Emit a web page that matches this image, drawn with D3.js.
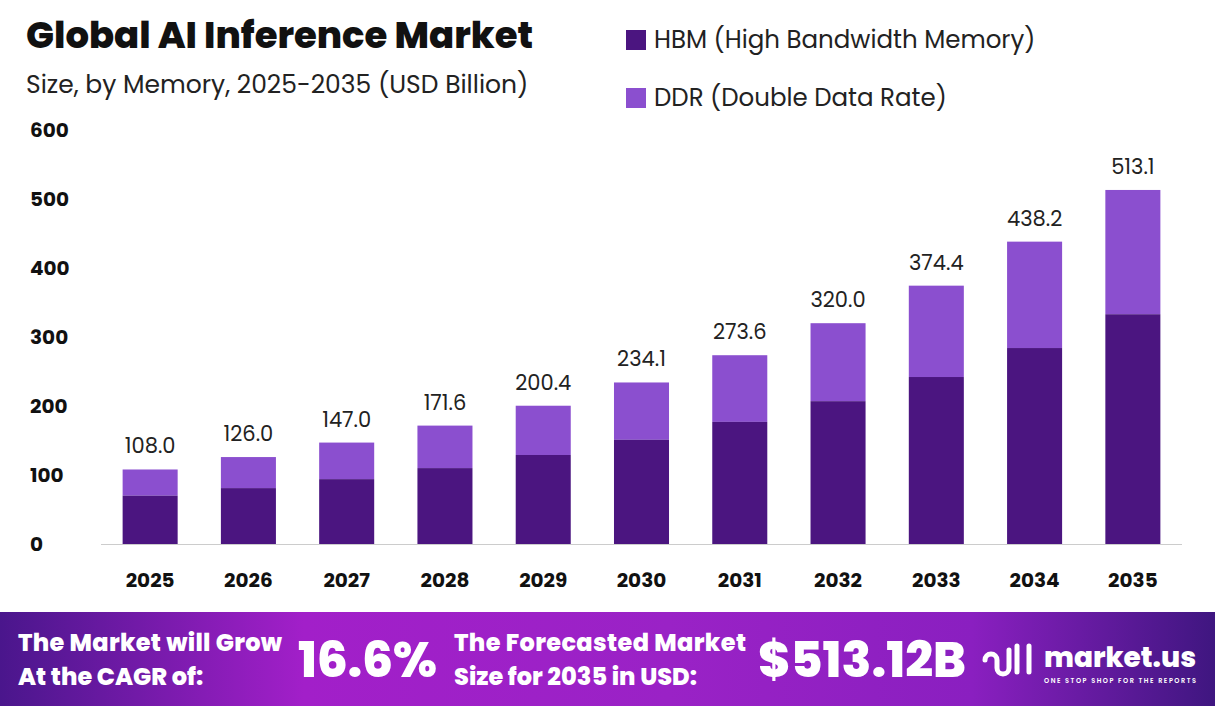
<!DOCTYPE html>
<html><head><meta charset="utf-8">
<script src="https://cdn.jsdelivr.net/npm/d3@7"></script>
<style>body{margin:0;background:#fff}svg{display:block;font-family:Poppins,"Open Sans","Noto Sans",sans-serif}</style>
</head><body><svg id="c" width="1215" height="706"></svg>
<script>
var years = ["2025","2026","2027","2028","2029","2030","2031","2032","2033","2034","2035"];
var totals = [108.0,126.0,147.0,171.6,200.4,234.1,273.6,320.0,374.4,438.2,513.1];
var hbm = [70,81,94,110,129,151,177,207,242,284,333];
var yTicks = [0,100,200,300,400,500,600];

var svg = d3.select("#c");
var x = d3.scaleBand().domain(years).range([101,1182]).paddingInner(0.44).paddingOuter(0.22);
var y = d3.scaleLinear().domain([0,600]).range([544,130]);

svg.append("text").attr("x",26).attr("y",48).attr("font-size",37).attr("font-weight",800).attr("fill","#111").attr("textLength",507).text("Global AI Inference Market");
svg.append("text").attr("x",26).attr("y",93).attr("font-size",25).attr("fill","#222").text("Size, by Memory, 2025-2035 (USD Billion)");

var leg = [["HBM (High Bandwidth Memory)","#4b1580"],["DDR (Double Data Rate)","#8b4fcf"]];
leg.forEach(function(l,i){
  svg.append("rect").attr("x",626).attr("y",30+i*58).attr("width",20).attr("height",20).attr("fill",l[1]);
  svg.append("text").attr("x",654).attr("y",48+i*58).attr("font-size",24.5).attr("fill","#222").text(l[0]);
});

svg.append("line").attr("x1",101).attr("x2",1182).attr("y1",544.5).attr("y2",544.5).attr("stroke","#ccc");
svg.selectAll(".yt").data(yTicks).enter().append("text").attr("x",30).attr("y",function(d){return y(d)+7;})
  .attr("font-size",20).attr("font-weight",700).attr("fill","#111").text(function(d){return d;});

var g = svg.append("g");
years.forEach(function(yr,i){
  g.append("rect").attr("x",x(yr)).attr("width",x.bandwidth()).attr("y",y(totals[i])).attr("height",y(hbm[i])-y(totals[i])).attr("fill","#8b4fcf");
  g.append("rect").attr("x",x(yr)).attr("width",x.bandwidth()).attr("y",y(hbm[i])).attr("height",y(0)-y(hbm[i])).attr("fill","#4b1580");
  g.append("text").attr("x",x(yr)+x.bandwidth()/2).attr("y",y(totals[i])-16).attr("text-anchor","middle").attr("font-size",21).attr("fill","#222").text(totals[i].toFixed(1));
  g.append("text").attr("x",x(yr)+x.bandwidth()/2).attr("y",587).attr("text-anchor","middle").attr("font-size",20).attr("font-weight",700).attr("fill","#111").text(yr);
});

var defs = svg.append("defs");
var gr = defs.append("linearGradient").attr("id","ft");
[["0%","#4a168c"],["25%","#a21fc9"],["55%","#9a22c6"],["80%","#8a1fc0"],["100%","#3f1680"]].forEach(function(s){gr.append("stop").attr("offset",s[0]).attr("stop-color",s[1]);});
svg.append("rect").attr("x",0).attr("y",612).attr("width",1215).attr("height",94).attr("fill","url(#ft)");
function t(xx,yy,txt,fs,w,len){var e=svg.append("text").attr("x",xx).attr("y",yy).attr("font-size",fs).attr("font-weight",w||800).attr("fill","#fff").text(txt);if(len)e.attr("textLength",len);}
t(18,651,"The Market will Grow",24,800,264);
t(18,685,"At the CAGR of:",24);
t(298,677,"16.6%",49,800,139);
t(454,651,"The Forecasted Market",24,800,292);
t(454,685,"Size for 2035 in USD:",24);
t(758,677,"$513.12B",49,800,208);
t(1044,667,"market.us",28);
t(1044,683,"ONE STOP SHOP FOR THE REPORTS",6.5,600,152);
svg.append("path").attr("d","M985 660 a6 6 0 1 1 12 0 v8 a6 6 0 0 0 12 0 v-18 M1017 646 v26 M1029 646 v26").attr("stroke","#fff").attr("stroke-width",5).attr("fill","none").attr("stroke-linecap","round");
</script></body></html>
